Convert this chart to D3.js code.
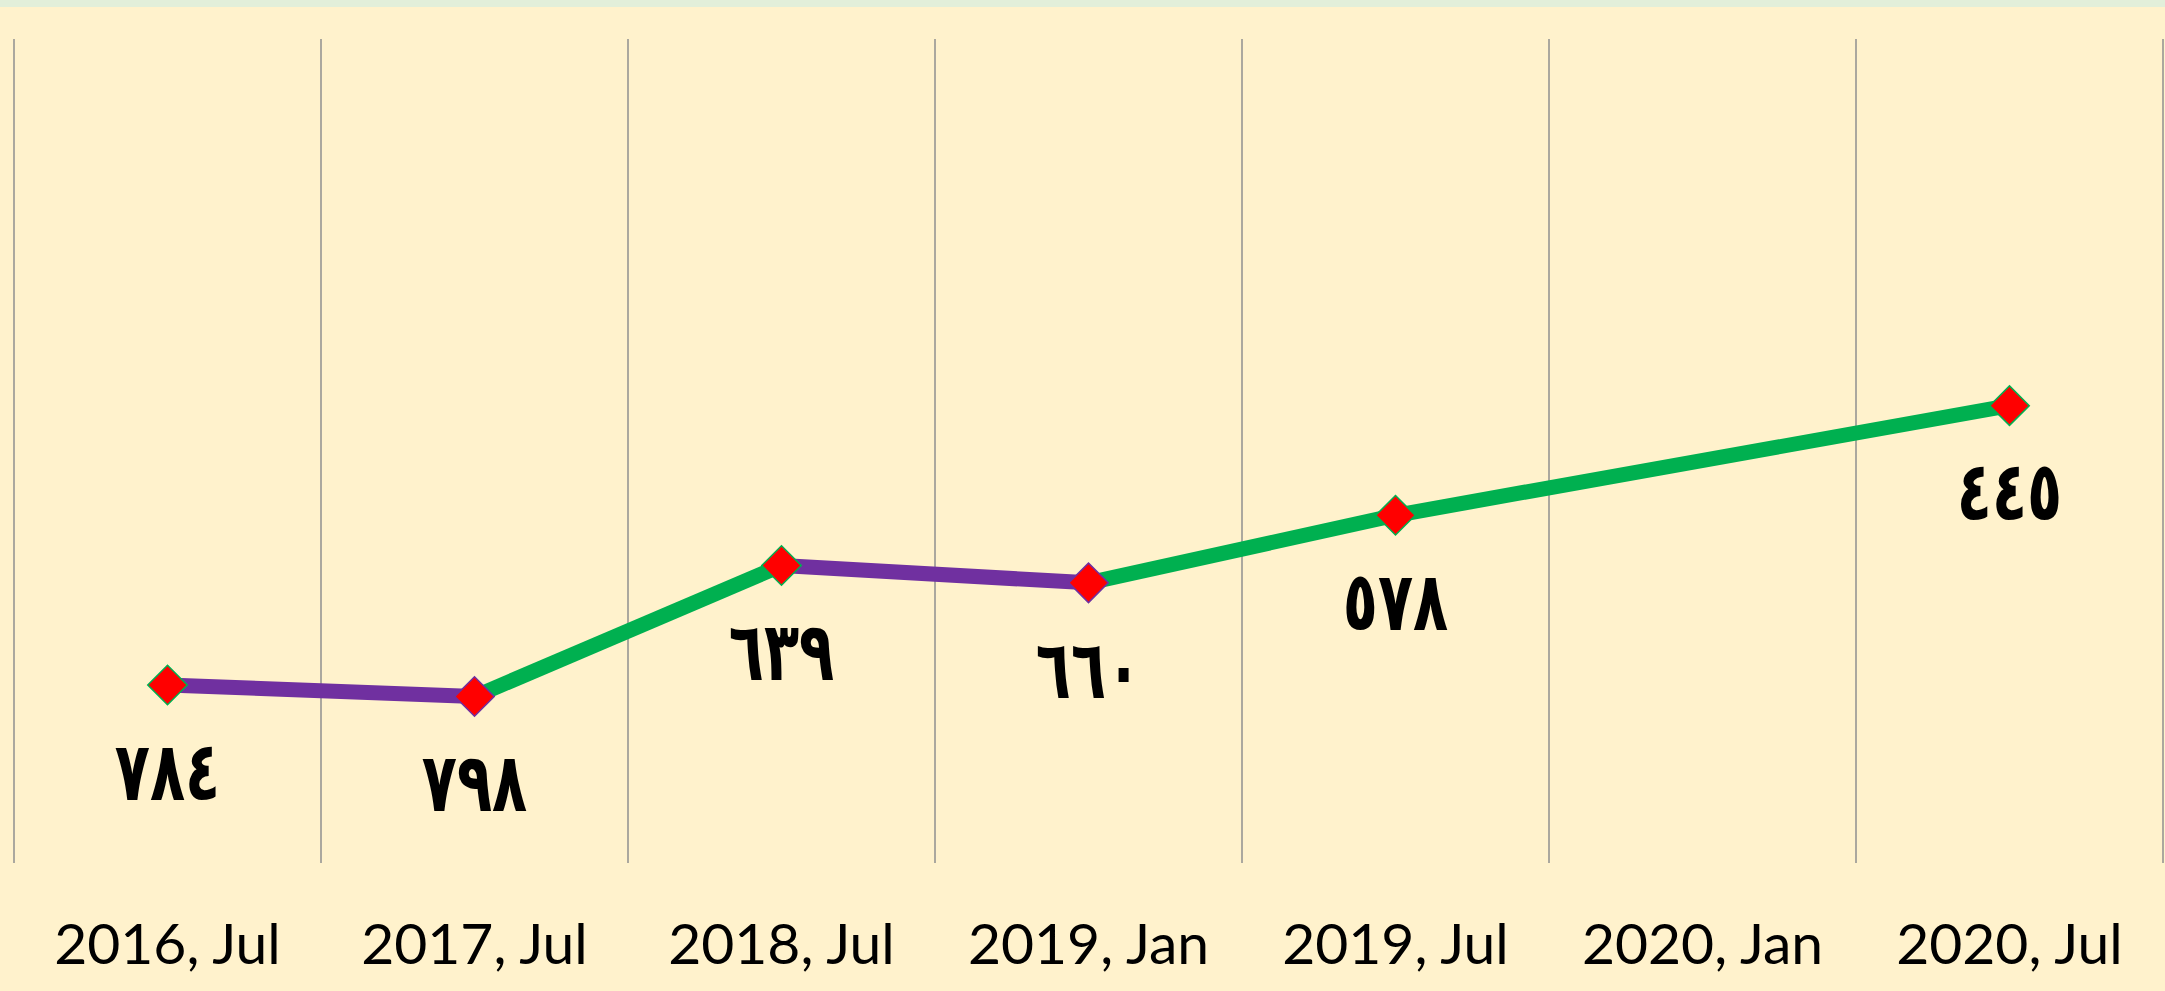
<!DOCTYPE html>
<html>
<head>
<meta charset="utf-8">
<script src="https://cdn.jsdelivr.net/npm/d3@7"></script>
<style>
  body { margin: 0; background: #FFF2CC; }
</style>
</head>
<body>
<div id="chart"></div>
<script>

// categories along the bottom
var periods = ["2016, Jul", "2017, Jul", "2018, Jul", "2019, Jan", "2019, Jul", "2020, Jan", "2020, Jul"];
// values per period (null = no point)
var values = [784, 798, 639, 660, 578, null, 445];
// y domain (axis is reversed, 0 at top)
var yDomain = [0, 1000];

var W = 2165, H = 991;
var margin = {top: 39, right: 2, bottom: 128, left: 14};

var svg = d3.select("#chart")
  .append("svg")
    .attr("width", W)
    .attr("height", H);

// background + thin band along the top
svg.append("rect").attr("width", W).attr("height", H).attr("fill", "#FFF2CC");
svg.append("rect").attr("width", W).attr("height", 7).attr("fill", "#E2EFDA");

var x = d3.scaleBand()
  .domain(periods)
  .range([margin.left, W - margin.right])
  .paddingInner(0).paddingOuter(0);

var y = d3.scaleLinear()
  .domain(yDomain)
  .range([margin.top, H - margin.bottom]);

// vertical gridlines at band edges
var edges = periods.map(function(p) { return x(p); }).concat([x(periods[periods.length - 1]) + x.bandwidth()]);
svg.append("g")
  .selectAll("line")
  .data(edges)
  .enter().append("line")
    .attr("x1", function(d) { return d; })
    .attr("x2", function(d) { return d; })
    .attr("y1", y(yDomain[0]))
    .attr("y2", y(yDomain[1]))
    .attr("stroke", "#8f8f8f")
    .attr("stroke-width", 1.5);

// category labels
var xAxis = svg.append("g")
  .attr("transform", "translate(0," + y(yDomain[1]) + ")")
  .call(d3.axisBottom(x).tickSize(0).tickPadding(0));
xAxis.select(".domain").remove();
xAxis.selectAll("text")
  .attr("dy", null)
  .attr("y", 101)
  .attr("fill", "#000")
  .style("font-family", "Lato, 'Open Sans', sans-serif")
  .style("font-size", "57px");

var pts = periods.map(function(p, i) { return {period: p, value: values[i]}; })
  .filter(function(d) { return d.value != null; });

var up = "#7030A0", down = "#00B050";
function cx(d) { return x(d.period) + x.bandwidth() / 2; }

// segments coloured by direction
var segs = d3.pairs(pts);
svg.append("g")
  .selectAll("line")
  .data(segs)
  .enter().append("line")
    .attr("x1", function(d) { return cx(d[0]); })
    .attr("y1", function(d) { return y(d[0].value); })
    .attr("x2", function(d) { return cx(d[1]); })
    .attr("y2", function(d) { return y(d[1].value); })
    .attr("stroke", function(d) { return d[1].value > d[0].value ? up : down; })
    .attr("stroke-width", 15);

// diamond markers
var sym = d3.symbol().type(d3.symbolSquare).size(780);
svg.append("g")
  .selectAll("path")
  .data(pts)
  .enter().append("path")
    .attr("d", sym)
    .attr("transform", function(d) { return "translate(" + cx(d) + "," + y(d.value) + ") rotate(45)"; })
    .attr("fill", "#FF0000")
    .attr("stroke", function(d, i) { return i > 0 && d.value > pts[i - 1].value ? up : down; })
    .attr("stroke-width", 1.5);

// value labels in Arabic-Indic digits
var arDigits = "٠١٢٣٤٥٦٧٨٩";
function toArabic(n) { return String(n).replace(/[0-9]/g, function(c) { return arDigits[+c]; }); }

svg.append("g")
  .selectAll("text")
  .data(pts)
  .enter().append("text")
    .attr("transform", function(d) { return "translate(" + cx(d) + "," + (y(d.value) + 86) + ") scale(0.9,1.28)"; })
    .attr("dy", "0.35em")
    .attr("text-anchor", "middle")
    .style("font-family", "'DejaVu Sans', sans-serif")
    .style("font-weight", "bold")
    .style("font-size", "64px")
    .text(function(d) { return toArabic(d.value); });

</script>
</body>
</html>
